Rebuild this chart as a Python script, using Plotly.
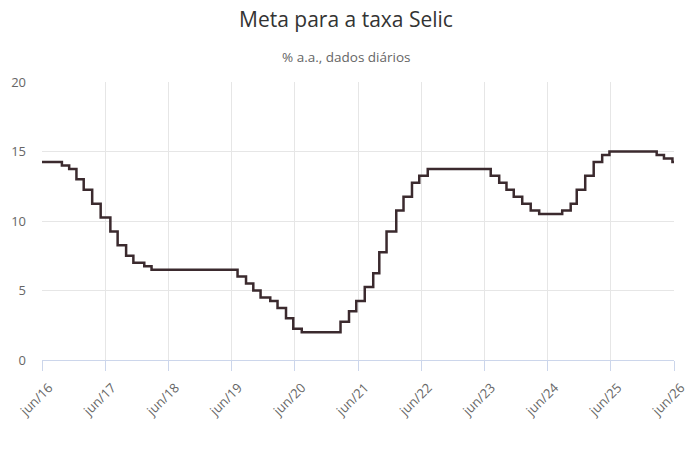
import plotly.graph_objects as go

# Dates of changes of the Selic target and new values (% a.a.)
change_dates = [
    "2016-06-26", "2016-10-19", "2016-11-30", "2017-01-11", "2017-02-22", "2017-04-12",
    "2017-05-31", "2017-07-26", "2017-09-06", "2017-10-25", "2017-12-06", "2018-02-07",
    "2018-03-21", "2019-07-31", "2019-09-18", "2019-10-30", "2019-12-11", "2020-02-05",
    "2020-03-18", "2020-05-06", "2020-06-17", "2020-08-05", "2021-03-17", "2021-05-05",
    "2021-06-16", "2021-08-04", "2021-09-22", "2021-10-27", "2021-12-08", "2022-02-02",
    "2022-03-16", "2022-05-04", "2022-06-15", "2022-08-03", "2023-08-02", "2023-09-20",
    "2023-11-01", "2023-12-13", "2024-01-31", "2024-03-20", "2024-05-08", "2024-09-18",
    "2024-11-06", "2024-12-11", "2025-01-29", "2025-03-19", "2025-05-07", "2025-06-18",
    "2026-03-18", "2026-04-29", "2026-06-17", "2026-06-26",
]
selic_values = [
    14.25, 14.00, 13.75, 13.00, 12.25, 11.25,
    10.25, 9.25, 8.25, 7.50, 7.00, 6.75,
    6.50, 6.00, 5.50, 5.00, 4.50, 4.25,
    3.75, 3.00, 2.25, 2.00, 2.75, 3.50,
    4.25, 5.25, 6.25, 7.75, 9.25, 10.75,
    11.75, 12.75, 13.25, 13.75, 13.25, 12.75,
    12.25, 11.75, 11.25, 10.75, 10.50, 10.75,
    11.25, 12.25, 13.25, 14.25, 14.75, 15.00,
    14.75, 14.50, 14.25, 14.25,
]

tick_dates = [f"{y}-06-26" for y in range(2016, 2027)]
tick_labels = [f"jun/{str(y)[2:]}" for y in range(2016, 2027)]

fig = go.Figure()
fig.add_trace(go.Scatter(
    x=change_dates, y=selic_values, mode="lines", line_shape="hv",
    line=dict(color="#3b2a2e", width=2.5), hoverinfo="x+y", showlegend=False,
))

fig.update_layout(
    width=692, height=461,
    margin=dict(l=42, r=18, t=82, b=101),
    paper_bgcolor="white", plot_bgcolor="white",
    font=dict(family="Open Sans, sans-serif", color="#666666", size=12),
    title=dict(text="Meta para a taxa Selic", x=0.5, xanchor="center",
               y=1 - 20 / 461, yanchor="middle", yref="container",
               font=dict(size=21, color="#333333")),
    annotations=[dict(text="% a.a., dados diários", xref="paper", yref="paper",
                      x=(346 - 42) / 632, y=(360 - 57) / 278, xanchor="center", yanchor="middle",
                      showarrow=False, font=dict(size=13.5, color="#666666"))],
)
fig.update_xaxes(
    range=[tick_dates[0], tick_dates[-1]], automargin=False,
    tickmode="array", tickvals=tick_dates, ticktext=tick_labels,
    tickangle=-45, showgrid=True, gridcolor="#e6e6e6", gridwidth=1,
    showline=True, linecolor="#ccd6eb", linewidth=1,
    ticks="outside", ticklen=10, tickcolor="#ccd6eb",
    ticklabelstandoff=4, ticklabelshift=7,
    tickfont=dict(size=13, color="#666666"), zeroline=False,
)
fig.update_yaxes(
    range=[0, 20], tickvals=[0, 5, 10, 15, 20], automargin=False,
    showgrid=True, gridcolor="#e6e6e6", gridwidth=1, zeroline=False,
    showline=False, ticks="", ticklabelstandoff=15,
    tickfont=dict(size=13, color="#666666"),
)

fig.write_html("out.html")
